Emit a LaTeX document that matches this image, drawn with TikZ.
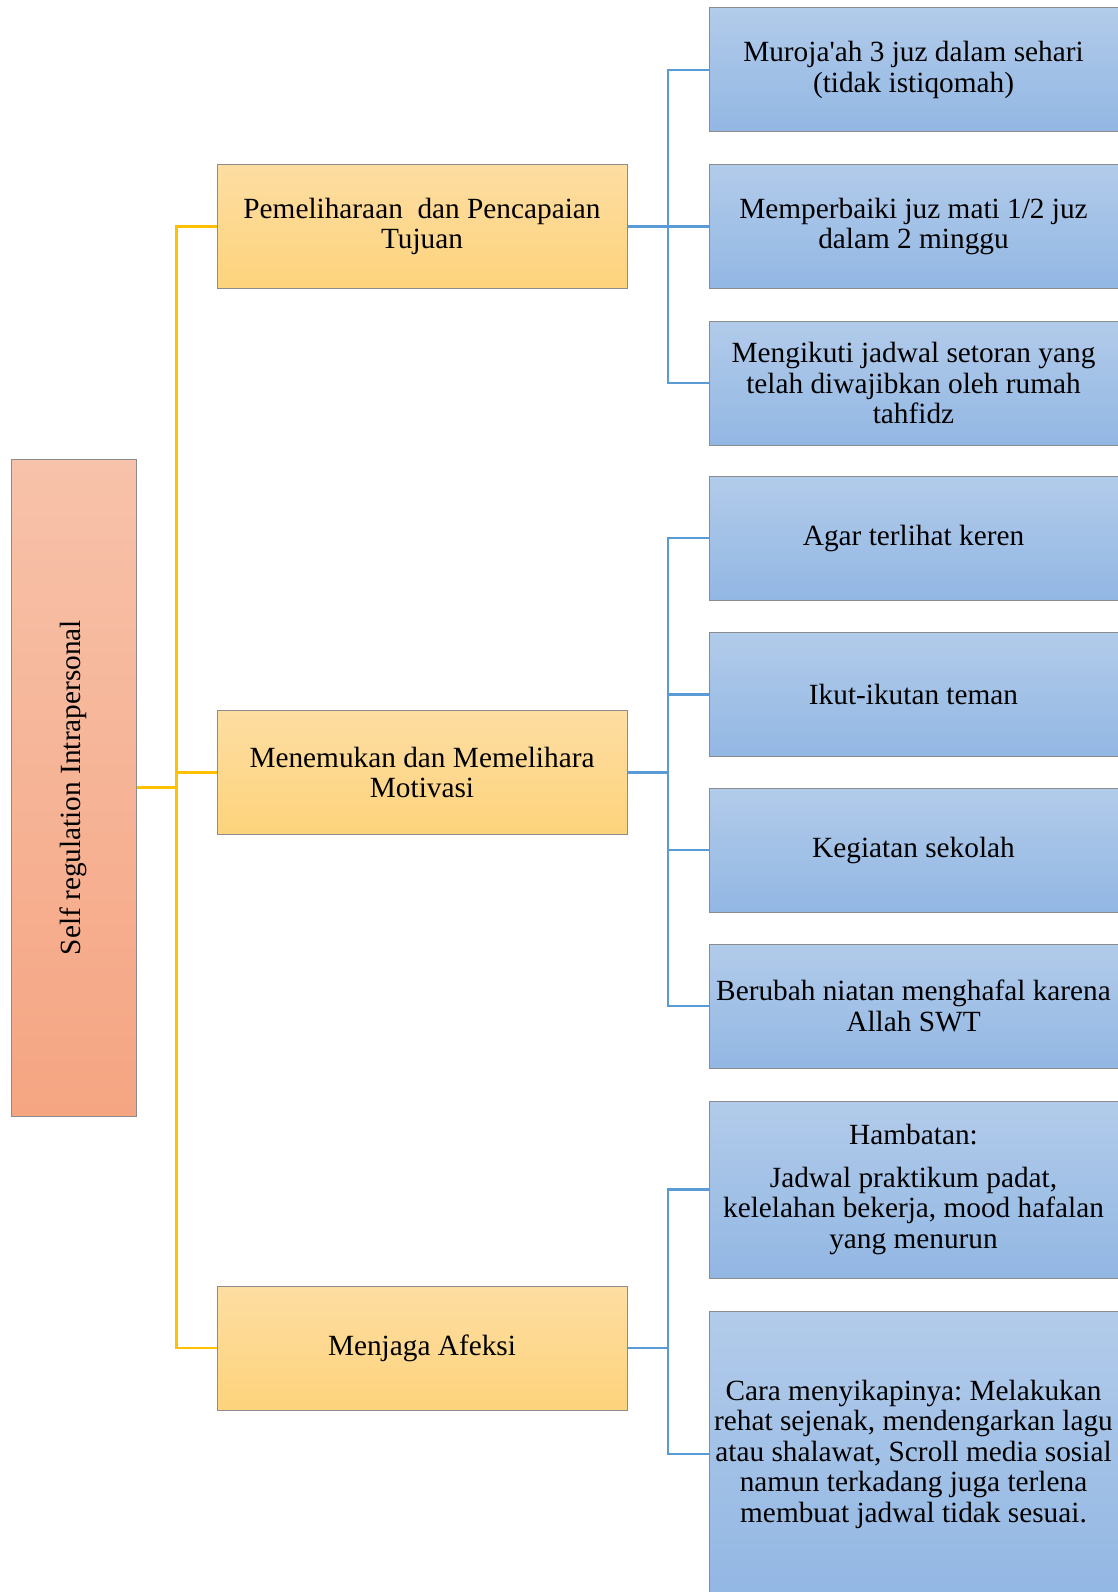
\documentclass[tikz,border=0pt]{standalone}
\usepackage{fontspec}
\setmainfont{Liberation Serif}
\usetikzlibrary{calc, positioning}

\definecolor{rootTop}{HTML}{F7C2AA}
\definecolor{rootBot}{HTML}{F5A582}
\definecolor{midTop}{HTML}{FDDDA2}
\definecolor{midBot}{HTML}{FDD37C}
\definecolor{leafTop}{HTML}{B2CBEA}
\definecolor{leafBot}{HTML}{92B7E3}
\definecolor{boxLine}{HTML}{8C8C8C}
\definecolor{yLine}{HTML}{FFC000}
\definecolor{bLine}{HTML}{5B9BD5}

\frenchspacing

\begin{document}
\begin{tikzpicture}[x=1pt, y=-1pt,
    every node/.style={font=\fontsize{29.3}{30.5}\selectfont, align=center, inner sep=0pt},
    rootbox/.style={draw=boxLine, line width=1pt, top color=rootTop, bottom color=rootBot,
        minimum width=125pt, minimum height=657pt},
    midbox/.style={draw=boxLine, line width=1pt, top color=midTop, bottom color=midBot,
        minimum width=410pt, minimum height=124pt},
    leafbox/.style={draw=boxLine, line width=1pt, top color=leafTop, bottom color=leafBot,
        minimum width=409pt, minimum height=124pt},
    yconn/.style={draw=yLine, line width=2.8pt},
    bconn/.style={draw=bLine, line width=2.8pt}]

    % =================================================================
    % 1. KHUNG GAMBAR
    % =================================================================
    \useasboundingbox[fill=white] (0,0) rectangle (1118,1592);
    \clip (0,0) rectangle (1118,1592);

    % =================================================================
    % 2. KOTAK AKAR DAN KOTAK ASPEK
    % =================================================================
    \node[rootbox] (root) at (73.5,787.5) {\rotatebox{90}{Self regulation Intrapersonal}};

    \node[midbox] (tujuan)   at (422,226.5) {Pemeliharaan\ \ dan Pencapaian\\Tujuan};
    \node[midbox] (motivasi) at (422,772.5) {Menemukan dan Memelihara\\Motivasi};
    \node[midbox] (afeksi)   at (422,1348)  {Menjaga Afeksi};

    % =================================================================
    % 3. KOTAK RINCIAN (kanan)
    % =================================================================
    \node[leafbox] (muroja)  at (913.5,70)  {Muroja\textquotesingle ah 3 juz dalam sehari\\(tidak istiqomah)};
    \node[leafbox] (juzmati) at (913.5,226.5) {Memperbaiki juz mati 1/2 juz\\dalam 2 minggu};
    \node[leafbox] (setoran) at (913.5,383) {Mengikuti jadwal setoran yang\\telah diwajibkan oleh rumah\\tahfidz};

    \node[leafbox] (keren)   at (913.5,538) {Agar terlihat keren};
    \node[leafbox] (teman)   at (913.5,694.5) {Ikut-ikutan teman};
    \node[leafbox] (sekolah) at (913.5,850) {Kegiatan sekolah};
    \node[leafbox] (niatan)  at (913.5,1006) {Berubah niatan menghafal karena\\Allah SWT};

    \node[leafbox, minimum height=177pt] (hambatan) at (913.5,1189.5)
        {Hambatan:\\[12pt]Jadwal praktikum padat,\\kelelahan bekerja, mood hafalan\\yang menurun};
    \node[leafbox, minimum height=286pt] (cara) at (913.5,1454)
        {Cara menyikapinya: Melakukan\\rehat sejenak, mendengarkan lagu\\atau shalawat, Scroll media sosial\\namun terkadang juga terlena\\membuat jadwal tidak sesuai.};

    % =================================================================
    % 4. GARIS PENGHUBUNG KUNING (akar -> aspek)
    % =================================================================
    \coordinate (yTrunk) at ($(root.east)!0.5!(root.east -| motivasi.west)$);
    \draw[yconn] (root.east) -- (yTrunk);
    \draw[yconn] (tujuan.west) -| (yTrunk) |- (afeksi.west);
    \draw[yconn] (motivasi.west) -- (motivasi.west -| yTrunk);

    % =================================================================
    % 5. GARIS PENGHUBUNG BIRU (aspek -> rincian)
    % =================================================================
    \coordinate (bTrunkA) at ($(tujuan.east)!0.5!(juzmati.west)$);
    \draw[bconn] (tujuan.east) -- (bTrunkA);
    \draw[bconn] (muroja.west) -| (bTrunkA) |- (setoran.west);
    \draw[bconn] (juzmati.west) -- (juzmati.west -| bTrunkA);

    \coordinate (bTrunkB) at ($(motivasi.east)!0.5!(motivasi.east -| keren.west)$);
    \draw[bconn] (motivasi.east) -- (bTrunkB);
    \draw[bconn] (keren.west) -| (bTrunkB) |- (niatan.west);
    \draw[bconn] (teman.west) -- (teman.west -| bTrunkB);
    \draw[bconn] (sekolah.west) -- (sekolah.west -| bTrunkB);

    \coordinate (bTrunkC) at ($(afeksi.east)!0.5!(afeksi.east -| cara.west)$);
    \draw[bconn] (afeksi.east) -- (bTrunkC);
    \draw[bconn] (hambatan.west) -| (bTrunkC) |- (cara.west);

\end{tikzpicture}
\end{document}
